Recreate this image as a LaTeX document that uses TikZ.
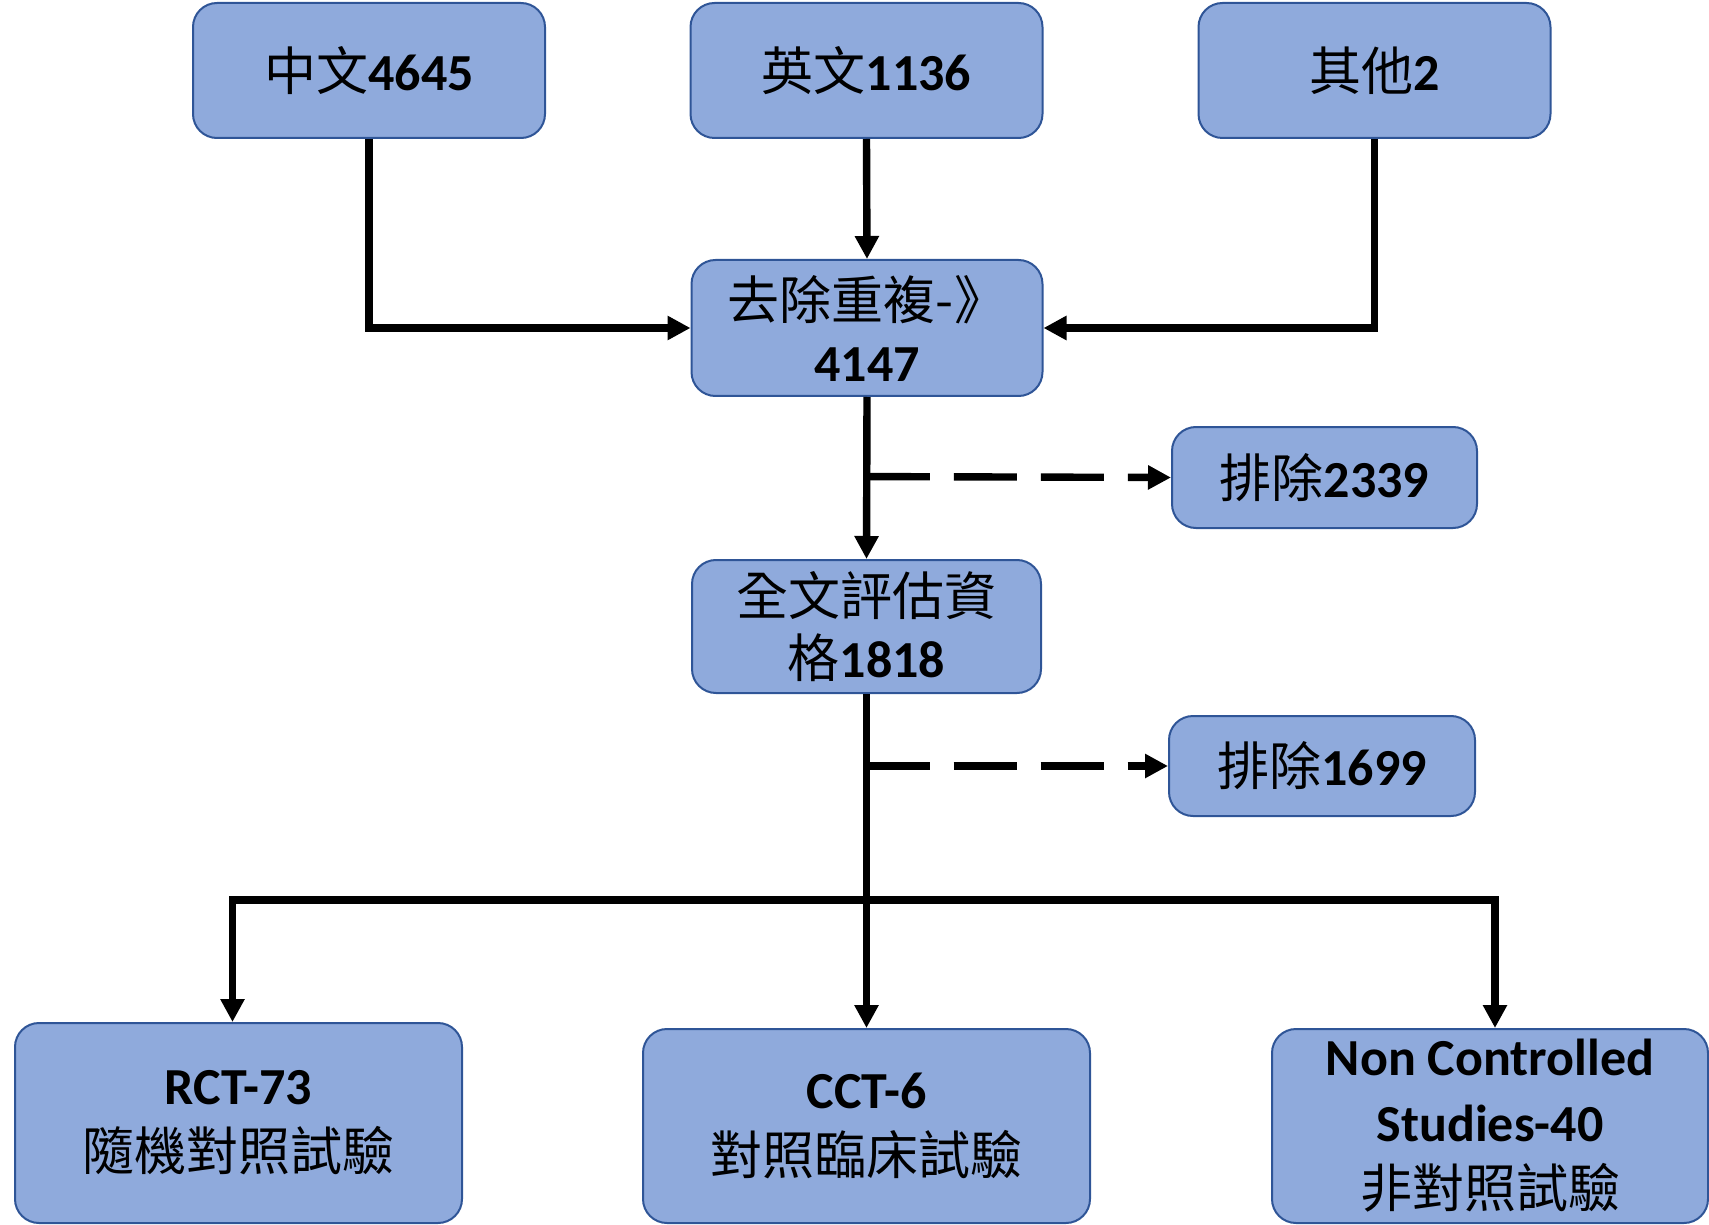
\documentclass[tikz,border=0pt]{standalone}
\usepackage{fontspec}
\setmainfont{Carlito}
\newfontfamily\cjk{Noto Sans CJK TC}
\usetikzlibrary{calc, arrows.meta}

\definecolor{boxfill}{HTML}{8FAADC}
\definecolor{boxline}{HTML}{2F5597}

\newcommand{\zh}[1]{{\cjk #1}}

\begin{document}
\begin{tikzpicture}[x=.5pt, y=-.5pt]
    \tikzstyle{record} = [rectangle, rounded corners=12pt, draw=boxline, line width=1pt,
        fill=boxfill, inner sep=0pt, align=center,
        font=\fontsize{26}{31}\selectfont]
    \tikzstyle{outcome} = [record, font=\fontsize{26}{33}\selectfont]
    \tikzstyle{link} = [line width=3.7pt, line join=miter,
        -{Triangle[width=11.5pt, length=11.5pt]}]
    \tikzstyle{droplink} = [link, dash pattern=on 31.5pt off 12pt]

    \useasboundingbox (0, 0) rectangle (1709, 1225);

    % Sources ----------------------------------------
    \node (zhong) at (369, 70.5) [record, minimum width=176pt, minimum height=67.5pt]
        {\zh{中文}\textbf{4645}};
    \node (ying) at (866.5, 70.5) [record, minimum width=176pt, minimum height=67.5pt]
        {\zh{英文}\textbf{1136}};
    \node (other) at (1374.5, 70.5) [record, minimum width=176pt, minimum height=67.5pt]
        {\zh{其他}\textbf{2}};
    % ---------------------------------------------------

    % Screening -----------------------------------------
    \node (dedup) at (867, 328) [record, minimum width=175.5pt, minimum height=68pt]
        {\zh{去除重複-》}\\\textbf{4147}};
    \node (excl1) at (1324.5, 477.5) [record, minimum width=152.5pt, minimum height=50.5pt]
        {\zh{排除}\textbf{2339}};
    \node (full) at (866.5, 626.5) [record, minimum width=174.5pt, minimum height=66.5pt]
        {\zh{全文評估資}\\\zh{格}\textbf{1818}};
    \node (excl2) at (1322, 766) [record, minimum width=153pt, minimum height=50pt]
        {\zh{排除}\textbf{1699}};

    % Study types
    \node (rct) at (238.5, 1123) [outcome, minimum width=223.5pt, minimum height=100pt]
        {\textbf{RCT-73}\\\zh{隨機對照試驗}};
    \node (cct) at (866.5, 1126) [outcome, minimum width=223.5pt, minimum height=97pt]
        {\textbf{CCT-6}\\\zh{對照臨床試驗}};
    \node (noncon) at (1490, 1126) [outcome, minimum width=218pt, minimum height=97pt]
        {\textbf{Non Controlled}\\\textbf{Studies-40}\\\zh{非對照試驗}};
    % ---------------------------------------------------

    % Connectors ----------------------------------------
    \draw [link] (zhong.south) |- (dedup.west);
    \draw [link] (ying.south) -- (dedup.north);
    \draw [link] (other.south) |- (dedup.east);
    \draw [link] (dedup.south) -- (full.north);
    \draw [link] (full.south) -- (cct.north);

    \coordinate (tap1) at ($(dedup.south)!(excl1.west)!(full.north)$);
    \coordinate (tap2) at ($(full.south)!(excl2.west)!(cct.north)$);
    \draw [droplink] (tap1) -- (excl1.west);
    \draw [droplink] (tap2) -- (excl2.west);

    \coordinate (bus) at ($(full.south) + (0, 206)$);
    \draw [link] (bus) -| ($(rct.north) + (-6, 0)$);
    \draw [link] (bus) -| ($(noncon.north) + (5, 0)$);
\end{tikzpicture}
\end{document}
